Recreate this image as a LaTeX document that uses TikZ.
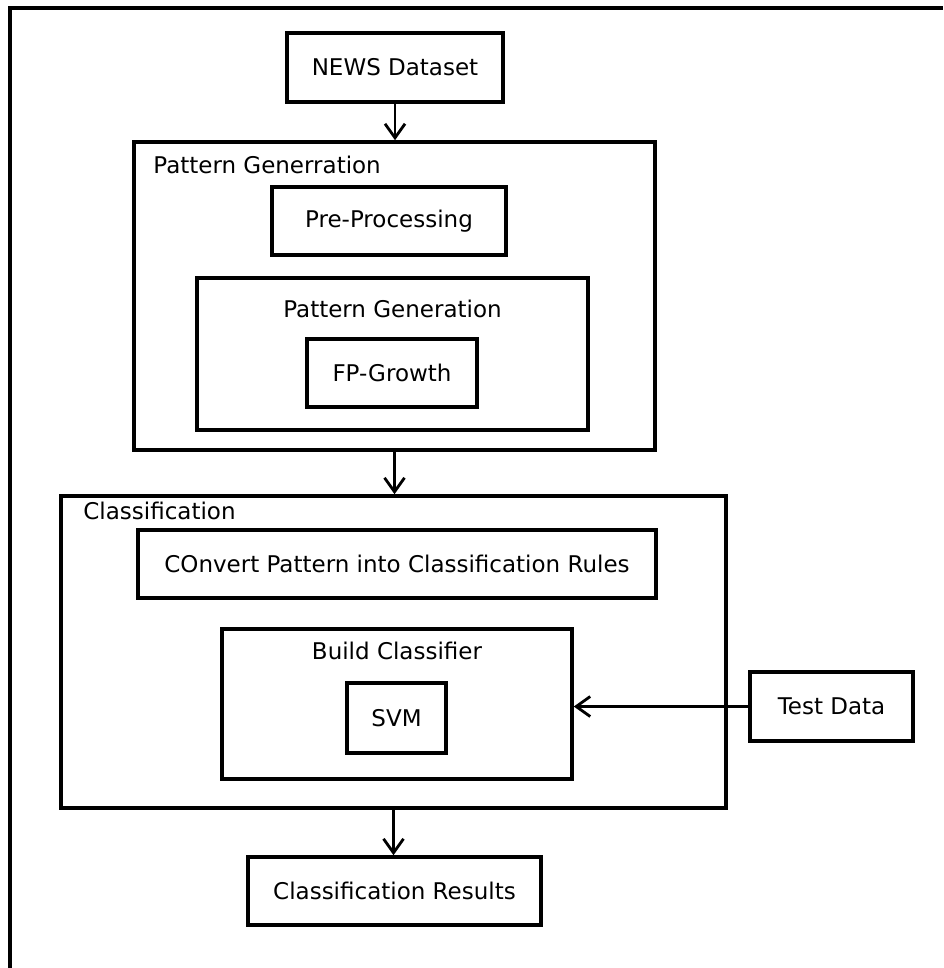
\documentclass[tikz,border=0pt]{standalone}
\usepackage{fontspec}
\setmainfont{DejaVu Sans}
\usetikzlibrary{arrows.meta,positioning}
\tikzset{
  frameline/.style={black,line width=1.8pt},
  flow/.style={-{Straight Barb[length=7pt,width=10pt,line width=1.4pt]},line width=1.4pt},
  box/.style={draw=black,line width=1.8pt,inner sep=0pt,align=center,
              font=\fontsize{11.5}{14}\selectfont},
  group/.style={box},
  lab/.style={inner sep=0pt,font=\fontsize{11.5}{14}\selectfont},
}

\begin{document}
\begin{tikzpicture}[x=0.5pt,y=-0.5pt]
  \path[use as bounding box] (0,0) rectangle (943,968);
  \draw[frameline] (10,968) -- (10,8) -- (943,8);

  \node[box,minimum width=108pt,minimum height=34.5pt] (news) at (395,67.5) {NEWS Dataset};

  % pattern generation stage
  \node[group,minimum width=260.5pt,minimum height=154pt] (patgrp) at (394.5,296) {};
  \node[lab,anchor=west] (patlab) at (153,165) {Pattern Generration};
  \node[box,minimum width=117pt,minimum height=34pt] (prep) at (389,221) {Pre-Processing};
  \node[group,minimum width=195.5pt,minimum height=76pt] (patgen) at (392.5,354) {};
  \node[lab] (genlab) at (392.5,309) {Pattern Generation};
  \node[box,minimum width=85pt,minimum height=34pt] (fp) at (392,373) {FP-Growth};

  % classification stage
  \node[group,minimum width=332.5pt,minimum height=156pt] (clsgrp) at (393.5,652) {};
  \node[lab,anchor=west] (clslab) at (83,511) {Classification};
  \node[box,minimum width=259pt,minimum height=34pt] (conv) at (397,564)
    {COnvert Pattern into Classification Rules};
  \node[group,minimum width=175pt,minimum height=75pt] (build) at (397,704) {};
  \node[lab] (buildlab) at (397,651) {Build Classifier};
  \node[box,minimum width=49.5pt,minimum height=35pt] (svm) at (396.5,718) {SVM};

  \node[box,minimum width=81.5pt,minimum height=34.5pt] (test) at (831.5,706.5) {Test Data};
  \node[box,minimum width=146.5pt,minimum height=34pt] (res) at (394.5,891) {Classification Results};

  \draw[flow] (news.south) -- (news.south |- patgrp.north);
  \draw[flow] (patgrp.south) -- (patgrp.south |- clsgrp.north);
  \draw[flow] (clsgrp.south) -- (clsgrp.south |- res.north);
  \draw[flow] (test.west) -- (test.west -| build.east);
\end{tikzpicture}
\end{document}
